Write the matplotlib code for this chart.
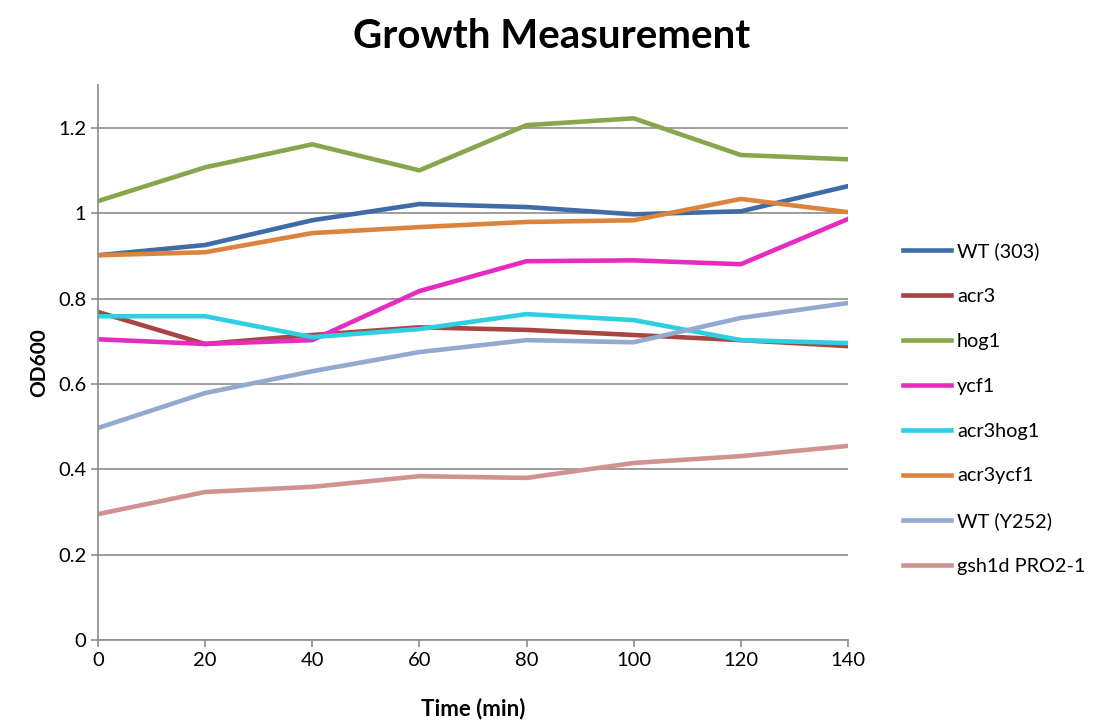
import matplotlib
matplotlib.use("Agg")
import matplotlib.pyplot as plt

plt.rcParams["font.family"] = ["Lato", "DejaVu Sans"]

time_min = [0, 20, 40, 60, 80, 100, 120, 140]

wt_303 = [0.902, 0.926, 0.984, 1.022, 1.015, 0.998, 1.005, 1.064]
acr3 = [0.769, 0.694, 0.715, 0.733, 0.727, 0.715, 0.703, 0.689]
hog1 = [1.029, 1.108, 1.162, 1.101, 1.207, 1.223, 1.137, 1.127]
ycf1 = [0.705, 0.694, 0.703, 0.818, 0.888, 0.890, 0.881, 0.987]
acr3hog1 = [0.759, 0.759, 0.710, 0.729, 0.764, 0.750, 0.703, 0.696]
acr3ycf1 = [0.902, 0.909, 0.954, 0.968, 0.980, 0.984, 1.034, 1.003]
wt_y252 = [0.497, 0.579, 0.630, 0.675, 0.703, 0.698, 0.755, 0.790]
gsh1d = [0.295, 0.347, 0.359, 0.384, 0.380, 0.415, 0.431, 0.455]

strains = ["WT (303)", "acr3", "hog1", "ycf1", "acr3hog1", "acr3ycf1",
           "WT (Y252)", "gsh1d PRO2-1"]
series = [wt_303, acr3, hog1, ycf1, acr3hog1, acr3ycf1, wt_y252, gsh1d]
colors = ["#3F6BA6", "#A84442", "#88A64C", "#E62CC0", "#2DCFE0", "#DC843D",
          "#93A9CF", "#D09392"]

fig = plt.figure(figsize=(11.03, 7.22), dpi=100)
ax = fig.add_axes([0.0888, 0.1136, 0.680, 0.768])

for name, vals, c in zip(strains, series, colors):
    ax.plot(time_min, vals, color=c, linewidth=3.3, label=name)

ax.set_xlim(0, 140)
ax.set_ylim(0, 1.3)
ax.set_xticks(time_min)
ax.set_yticks([0, 0.2, 0.4, 0.6, 0.8, 1.0, 1.2])
ax.set_yticklabels(["0", "0.2", "0.4", "0.6", "0.8", "1", "1.2"])
ax.grid(True, axis="y", color="#8C8C8C", linewidth=1.2)
ax.set_axisbelow(True)

for side in ["top", "right"]:
    ax.spines[side].set_visible(False)
for side in ["left", "bottom"]:
    ax.spines[side].set_color("#8C8C8C")
    ax.spines[side].set_linewidth(1.2)
ax.tick_params(colors="#8C8C8C", labelcolor="black", labelsize=14.5,
               length=5, width=1.2)

ax.set_xlabel("Time (min)", fontsize=16, fontweight="bold", labelpad=21)
ax.set_ylabel("OD600", fontsize=15, fontweight="bold", labelpad=6)
fig.suptitle("Growth Measurement", fontsize=29, fontweight="bold", y=0.975,
             x=0.50)

ax.legend(loc="center left", bbox_to_anchor=(1.05, 0.417), frameon=False,
          fontsize=14.3, handlelength=2.4, handletextpad=0.3,
          labelspacing=1.4)

fig.savefig("out.png", dpi=100)
